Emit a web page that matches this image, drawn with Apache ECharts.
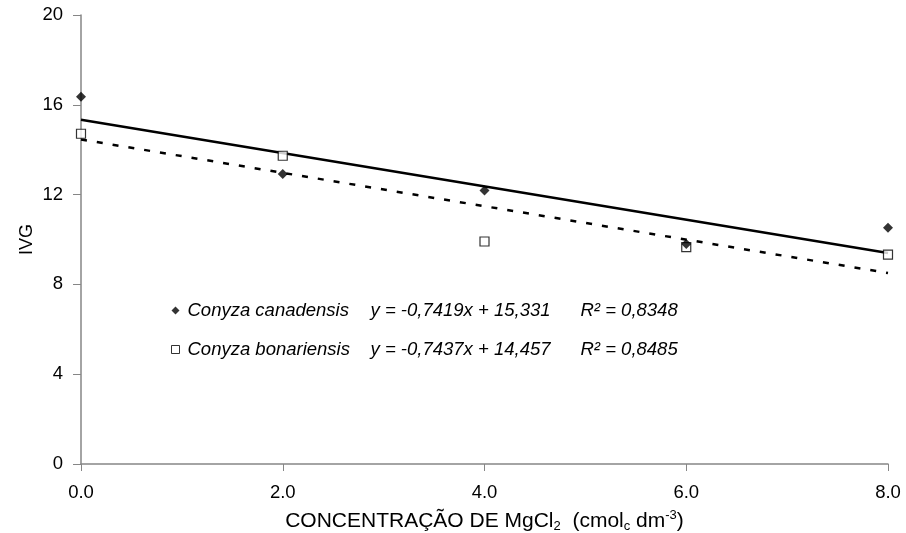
<!DOCTYPE html>
<html>
<head>
<meta charset="utf-8">
<script src="https://cdn.jsdelivr.net/npm/echarts@6/dist/echarts.min.js"></script>
<style>
  html, body { margin: 0; padding: 0; background: #fff; }
  #main { width: 906px; height: 533px; }
</style>
</head>
<body>
<div id="main"></div>
<script>
// doses de MgCl2
var doses = [0, 2, 4, 6, 8];
// IVG observado
var canadensis = [16.36, 12.92, 12.18, 9.8, 10.52];
var bonariensis = [14.71, 13.73, 9.91, 9.66, 9.33];
// extremos das retas ajustadas (x = 0 e x = 8)
var trendX = [0, 8];
var trendCanadensis = [15.331, 9.396];
var trendBonariensis = [14.457, 8.507];
var names = ['Conyza canadensis', 'Conyza bonariensis'];
var equations = ['y = -0,7419x + 15,331', 'y = -0,7437x + 14,457'];
var r2 = ['R² = 0,8348', 'R² = 0,8485'];

function pairs(xs, ys) {
  return xs.map(function (x, i) { return [x, ys[i]]; });
}

var chart = echarts.init(document.getElementById('main'));
var font = 'Liberation Sans, Arial, sans-serif';

var option = {
  backgroundColor: '#fff',
  animation: false,
  textStyle: { fontFamily: font },
  grid: { left: 81, right: 18, top: 15, bottom: 69, outerBoundsMode: 'none' },
  legend: {
    orient: 'vertical',
    left: 166,
    top: 296,
    itemWidth: 8,
    itemHeight: 8,
    itemGap: 20,
    selectedMode: false,
    data: [
      { name: names[0], icon: 'diamond', itemStyle: { color: '#000', borderWidth: 0 } },
      { name: names[1], icon: 'rect', itemStyle: { color: '#fff', borderColor: '#000', borderWidth: 1 } }
    ],
    formatter: function (name) {
      var i = names.indexOf(name);
      return '{n|' + name + '}{e|' + equations[i] + '}{r|' + r2[i] + '}';
    },
    textStyle: {
      rich: {
        n: { fontSize: 18.5, fontStyle: 'italic', color: '#000', width: 183, padding: [0, 0, 0, 3], fontFamily: font },
        e: { fontSize: 18.5, fontStyle: 'italic', color: '#000', width: 210, fontFamily: font },
        r: { fontSize: 18.5, fontStyle: 'italic', color: '#000', fontFamily: font }
      }
    }
  },
  xAxis: {
    type: 'value',
    min: 0,
    max: 8,
    interval: 2,
    name: '{t|CONCENTRAÇÃO DE MgCl}{s|2}{t|  (cmol}{s|c}{t| dm}{p|-3}{t|)}',
    nameLocation: 'middle',
    nameGap: 40,
    nameTextStyle: {
      rich: {
        t: { fontSize: 21, color: '#000', fontFamily: font, lineHeight: 28, verticalAlign: 'middle' },
        s: { fontSize: 13, color: '#000', fontFamily: font, lineHeight: 28, verticalAlign: 'bottom', padding: [0, 0, 2, 0] },
        p: { fontSize: 13, color: '#000', fontFamily: font, lineHeight: 28, verticalAlign: 'top', padding: [2, 0, 0, 0] }
      }
    },
    axisLine: { lineStyle: { color: '#868686', width: 1.5 } },
    axisTick: { show: true, length: 7, lineStyle: { color: '#868686' } },
    axisLabel: {
      fontSize: 18.5, color: '#000', margin: 19,
      formatter: function (v) { return v.toFixed(1); }
    },
    splitLine: { show: false }
  },
  yAxis: {
    type: 'value',
    min: 0,
    max: 20,
    interval: 4,
    name: 'IVG',
    nameLocation: 'middle',
    nameGap: 45,
    nameMoveOverlap: false,
    nameTextStyle: { fontSize: 18, color: '#000' },
    axisLine: { show: true, lineStyle: { color: '#868686', width: 1.5 } },
    axisTick: { show: true, length: 8, lineStyle: { color: '#868686' } },
    axisLabel: { fontSize: 18.5, color: '#000', margin: 18 },
    splitLine: { show: false }
  },
  series: [
    {
      name: 'trend canadensis',
      type: 'line',
      data: pairs(trendX, trendCanadensis),
      showSymbol: false,
      lineStyle: { color: '#000', width: 2.5 },
      z: 2
    },
    {
      name: 'trend bonariensis',
      type: 'line',
      data: pairs(trendX, trendBonariensis),
      showSymbol: false,
      lineStyle: { color: '#000', width: 2.5, type: [6, 10] },
      z: 2
    },
    {
      name: names[1],
      type: 'scatter',
      data: pairs(doses, bonariensis),
      symbol: 'rect',
      symbolSize: 9,
      itemStyle: { color: '#fff', borderColor: '#000', borderWidth: 1.2 },
      z: 3
    },
    {
      name: names[0],
      type: 'scatter',
      data: pairs(doses, canadensis),
      symbol: 'diamond',
      symbolSize: 10,
      itemStyle: { color: '#000' },
      z: 4
    }
  ]
};

chart.setOption(option);
</script>
</body>
</html>
